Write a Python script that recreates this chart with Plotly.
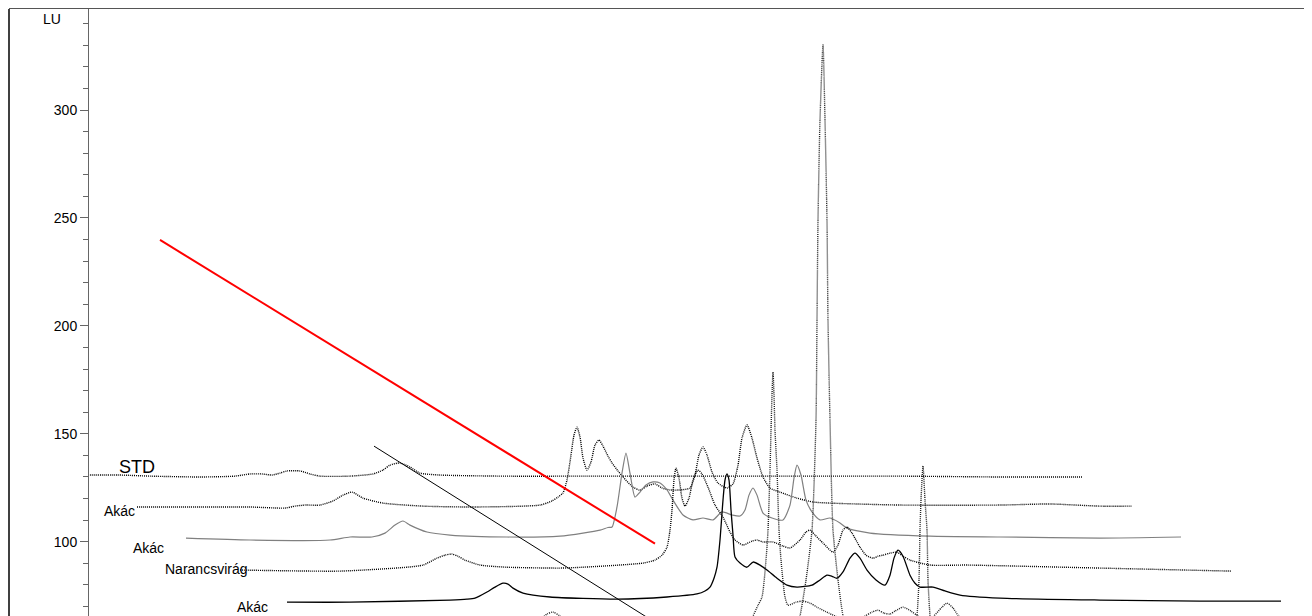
import plotly.graph_objects as go

# ---------------- data (x: retention-time units of the waterfall plot, y: LU) ----------------
std_x = [0, 3.2, 6.2, 11.2, 14.7, 16.2, 17.4, 18.4, 19.2, 19.9, 21.2, 22.2, 23.2, 26.2, 28.5, 29.5,
         30.2, 31.2, 32.2, 33.2, 35.2, 41.2, 51.2, 61.2, 71.2, 81.2, 91.2, 99.4]
std_y = [130.9, 130.9, 130.4, 130.0, 130.4, 131.4, 131.4, 130.9, 131.8, 132.8, 132.8, 131.4, 130.4,
         130.4, 131.4, 133.2, 135.5, 136.5, 134.6, 131.8, 130.9, 130.4, 130.4, 130.4, 130.4, 130.4,
         130.0, 130.0]

akac1_x = [4.9, 11.2, 16.2, 19.7, 20.7, 21.7, 23.2, 24.5, 25.5, 26.4, 27.5, 29.5, 33.5, 38.5, 45.2,
           46.4, 47.0, 47.5, 47.9, 48.3, 48.6, 48.9, 49.2, 49.5, 49.9, 50.3, 50.7, 51.1, 51.5, 52.0,
           52.4, 53.0, 53.5, 54.5, 55.2, 55.9, 56.7, 57.4, 58.2, 59.2, 60.2, 60.7, 61.1, 61.5, 61.9,
           62.4, 63.0, 63.9, 64.5, 65.0, 65.4, 65.9, 66.4, 66.9, 67.5, 68.2, 69.2, 70.9, 72.5, 74.2,
           81.2, 91.2, 96.2, 101.2, 104.4]
akac1_y = [116.1, 116.1, 116.1, 115.6, 116.5, 117.0, 117.0, 118.9, 121.6, 123.0, 120.2, 117.9, 116.5,
           116.1, 117.0, 118.9, 120.7, 122.6, 128.6, 140.2, 149.4, 153.1, 148.5, 138.8, 133.2, 136.9,
           144.8, 147.1, 144.3, 139.7, 136.5, 132.8, 130.0, 125.3, 123.9, 125.8, 126.8, 124.9, 124.0,
           124.0, 124.9, 130.9, 140.2, 143.9, 140.2, 132.3, 127.2, 124.9, 126.8, 135.5, 148.0, 154.1,
           148.0, 138.8, 130.0, 124.9, 123.0, 120.2, 118.4, 117.9, 117.0, 117.0, 117.5, 116.5, 116.5]

akac2_x = [9.8, 16.2, 24.2, 26.2, 28.4, 29.7, 30.7, 31.5, 32.2, 33.9, 36.2, 41.9, 47.2, 49.5, 51.2,
           52.0, 52.4, 52.9, 53.4, 53.8, 54.2, 54.7, 55.2, 55.8, 56.5, 57.2, 57.9, 58.5, 59.5, 60.5,
           61.5, 62.5, 63.4, 64.4, 65.2, 65.7, 66.1, 66.5, 66.9, 67.5, 68.4, 69.5, 70.2, 70.6, 70.9,
           71.3, 71.8, 72.4, 73.2, 74.2, 75.2, 75.9, 78.2, 84.2, 91.2, 101.2, 109.3]
akac2_y = [101.7, 100.8, 100.8, 102.2, 102.2, 104.0, 107.7, 109.6, 107.7, 104.5, 103.1, 102.2, 102.6,
           104.0, 105.4, 106.6, 106.8, 116.1, 131.8, 141.1, 131.8, 120.7, 123.0, 126.3, 127.7, 127.2,
           124.0, 119.3, 112.4, 110.1, 111.0, 110.1, 113.8, 112.4, 111.9, 114.7, 121.6, 124.9, 121.6,
           113.3, 111.0, 110.1, 117.0, 129.5, 135.5, 130.9, 119.3, 113.8, 110.1, 111.0, 108.7, 106.3,
           104.0, 102.6, 102.2, 101.7, 102.2]

naranc_x = [15.2, 25.2, 31.9, 33.5, 34.9, 35.7, 36.4, 37.0, 37.7, 39.2, 41.9, 47.2, 49.5, 55.5, 56.7,
            57.4, 57.9, 58.2, 58.4, 58.6, 58.8, 59.1, 59.4, 59.7, 60.1, 60.5, 61.0, 61.4, 62.0, 62.7,
            63.5, 64.2, 64.7, 65.5, 66.4, 66.9, 67.5, 68.5, 69.5, 70.2, 71.2, 71.8, 72.2, 72.7, 73.5,
            74.5, 75.0, 75.5, 75.9, 76.4, 77.2, 77.8, 78.5, 79.0, 79.5, 80.2, 80.9, 81.5, 82.2, 84.2,
            87.9, 101.2, 114.3]
naranc_y = [86.9, 86.4, 88.2, 89.2, 92.4, 93.8, 94.3, 93.3, 91.5, 89.2, 88.2, 87.8, 88.2, 90.1, 91.5,
            93.8, 97.5, 105.4, 114.7, 128.6, 134.1, 129.5, 120.2, 116.5, 120.2, 128.6, 133.2, 131.4,
            125.3, 117.0, 111.4, 104.5, 100.8, 98.5, 100.3, 100.8, 99.9, 99.9, 98.0, 97.1, 100.8,
            104.5, 105.4, 103.1, 99.4, 95.2, 98.5, 105.4, 106.8, 104.0, 97.5, 93.8, 92.4, 93.3, 93.8,
            94.7, 95.2, 93.3, 91.5, 89.2, 89.2, 87.8, 86.4]

akac3_x = [19.9, 26.2, 36.2, 37.9, 38.7, 39.9, 40.7, 41.5, 42.0, 42.5, 43.5, 46.2, 52.9, 57.9, 60.9,
           61.7, 62.2, 62.6, 62.9, 63.2, 63.5, 63.7, 63.9, 64.1, 64.3, 64.5, 64.7, 65.2, 65.9, 66.5,
           67.2, 67.9, 68.9, 69.9, 70.9, 72.4, 73.2, 73.9, 74.4, 74.9, 75.5, 76.2, 76.7, 77.2, 77.9,
           78.8, 79.7, 80.2, 80.6, 81.0, 81.5, 82.2, 82.7, 83.2, 84.5, 85.7, 87.2, 91.2, 101.2, 111.2,
           119.3]
akac3_y = [72.0, 72.0, 73.0, 73.4, 73.9, 76.7, 79.0, 80.8, 80.4, 78.5, 76.2, 74.4, 73.4, 74.4, 75.8,
           77.2, 79.0, 83.1, 88.2, 100.8, 119.3, 128.6, 131.4, 128.6, 114.7, 103.1, 92.9, 90.1, 88.2,
           90.6, 89.2, 86.9, 83.1, 79.9, 79.0, 79.9, 82.3, 84.5, 84.0, 83.1, 86.0, 92.4, 94.7, 92.4,
           86.9, 82.3, 79.9, 84.5, 92.4, 96.1, 93.3, 84.5, 80.8, 79.0, 79.0, 77.2, 75.3, 73.9, 73.0,
           72.5, 72.5]

trace6_x = [24.9, 39.2, 42.2, 44.2, 45.2, 45.9, 46.5, 47.2, 48.2, 50.2, 56.2, 61.2, 65.2, 66.0, 66.5,
            67.0, 67.4, 67.8, 68.0, 68.2, 68.3, 68.4, 68.5, 68.6, 68.7, 68.9, 69.1, 69.3, 69.7, 70.0,
            70.8, 71.5, 72.2, 72.9, 74.1, 75.2, 76.7, 77.7, 78.4, 79.0, 79.6, 80.2, 80.7, 81.5, 82.3,
            83.0, 84.2, 85.4, 85.9, 86.5, 87.0, 88.2, 91.2, 101.2, 111.2, 124.3]
trace6_y = [57.2, 57.2, 57.7, 60.0, 63.7, 66.5, 67.4, 65.6, 61.9, 59.1, 58.6, 59.1, 59.1, 61.9, 65.6,
            70.6, 74.4, 91.5, 105.4, 133.2, 151.7, 167.9, 178.6, 167.9, 151.7, 133.2, 105.4, 91.5,
            74.4, 70.6, 72.0, 72.5, 71.6, 69.7, 66.9, 64.7, 63.7, 65.6, 67.4, 68.3, 66.9, 66.5, 67.9,
            69.7, 67.9, 65.6, 64.2, 69.7, 71.6, 69.3, 66.0, 61.9, 59.1, 58.2, 57.7, 57.2]

trace7_x = [29.9, 61.2, 69.2, 70.2, 70.8, 71.2, 71.8, 72.4, 72.8, 72.9, 73.0, 73.2, 73.5, 73.7, 73.9,
            74.0, 74.2, 74.5, 75.0, 75.5, 76.0, 76.7, 78.2, 81.2, 82.2, 82.7, 82.9, 83.1, 83.2, 83.3,
            83.5, 83.7, 83.9, 84.0, 84.2, 84.4, 85.2, 87.2, 101.2, 129.3]
trace7_y = [42.5, 43.4, 44.3, 49.8, 59.1, 65.6, 82.3, 105.4, 156.4, 202.7, 249.0, 295.4, 330.1, 295.4,
            249.0, 202.7, 156.4, 105.4, 82.3, 65.6, 56.8, 47.5, 44.3, 45.2, 49.8, 59.1, 65.6, 82.3,
            105.4, 119.3, 135.1, 119.3, 105.4, 82.3, 65.6, 56.8, 47.5, 44.3, 43.4, 42.5]

red_x = [7.2, 56.7]
red_y = [239.8, 99.1]
black_x = [28.6, 61.2]
black_y = [144.3, 49.6]

labels = ["STD", "Akác", "Akác", "Narancsvirág", "Akác"]
label_x = [2.9, 1.4, 4.3, 7.5, 14.7]
label_y = [134.6, 114.4, 97.2, 87.5, 69.9]
label_size = [18, 14, 14, 14, 14]

y_ticks = [100, 150, 200, 250, 300]
y_range = [65.6, 346.8]
x_range = [-7.9, 122.4]

FONT = "Liberation Sans, Arial, sans-serif"
DOT = "1px,1px"

fig = go.Figure()

series = [
    (std_x, std_y, "#000000", DOT, 1.4),
    (akac1_x, akac1_y, "#000000", DOT, 1.4),
    (akac2_x, akac2_y, "#808080", "solid", 1.2),
    (naranc_x, naranc_y, "#000000", DOT, 1.4),
    (akac3_x, akac3_y, "#000000", "solid", 1.3),
    (trace6_x, trace6_y, "#222222", DOT, 1.4),
    (trace7_x, trace7_y, "#222222", DOT, 1.4),
]
for xs, ys, col, dash, w in series:
    fig.add_trace(go.Scatter(x=xs, y=ys, mode="lines",
                             line=dict(color=col, width=w, dash=dash, shape="spline", smoothing=0.6),
                             hoverinfo="skip", showlegend=False))

fig.add_trace(go.Scatter(x=red_x, y=red_y, mode="lines", line=dict(color="#ff0000", width=2),
                         hoverinfo="skip", showlegend=False))
fig.add_trace(go.Scatter(x=black_x, y=black_y, mode="lines", line=dict(color="#000000", width=1),
                         hoverinfo="skip", showlegend=False))

for t, lx, ly, s in zip(labels, label_x, label_y, label_size):
    fig.add_annotation(x=lx, y=ly, xref="x", yref="y", text=t, showarrow=False,
                       xanchor="left", yanchor="middle", font=dict(family=FONT, size=s, color="black"))

fig.add_annotation(x=-3.6, y=342.2, xref="x", yref="y", text="LU", showarrow=False,
                   xanchor="center", yanchor="middle", font=dict(family=FONT, size=14, color="black"))

# the page body adds an 8 px margin, so the figure is 8 px smaller on each axis
fig.update_layout(
    width=1304, height=608, autosize=False,
    margin=dict(l=1, r=0, t=1, b=0, pad=0),
    paper_bgcolor="white", plot_bgcolor="white",
    showlegend=False,
    xaxis=dict(range=x_range, side="top", showline=True, linecolor="#555555", linewidth=2,
               showticklabels=False, ticks="", showgrid=False, zeroline=False, fixedrange=True),
    yaxis=dict(range=y_range, anchor="free", position=79 / 1303, showline=True,
               linecolor="#666666", linewidth=1, tickvals=y_ticks, ticks="outside", ticklen=8,
               tickcolor="#666666", tickwidth=1,
               minor=dict(dtick=10, tick0=0, ticks="outside", ticklen=5, tickcolor="#666666", tickwidth=1),
               tickfont=dict(family=FONT, size=14, color="black"),
               showgrid=False, zeroline=False, fixedrange=True),
    shapes=[dict(type="line", xref="paper", yref="paper", x0=0, x1=0, y0=0, y1=1,
                 line=dict(color="black", width=1.5))],
)

fig.write_html("out.html")
